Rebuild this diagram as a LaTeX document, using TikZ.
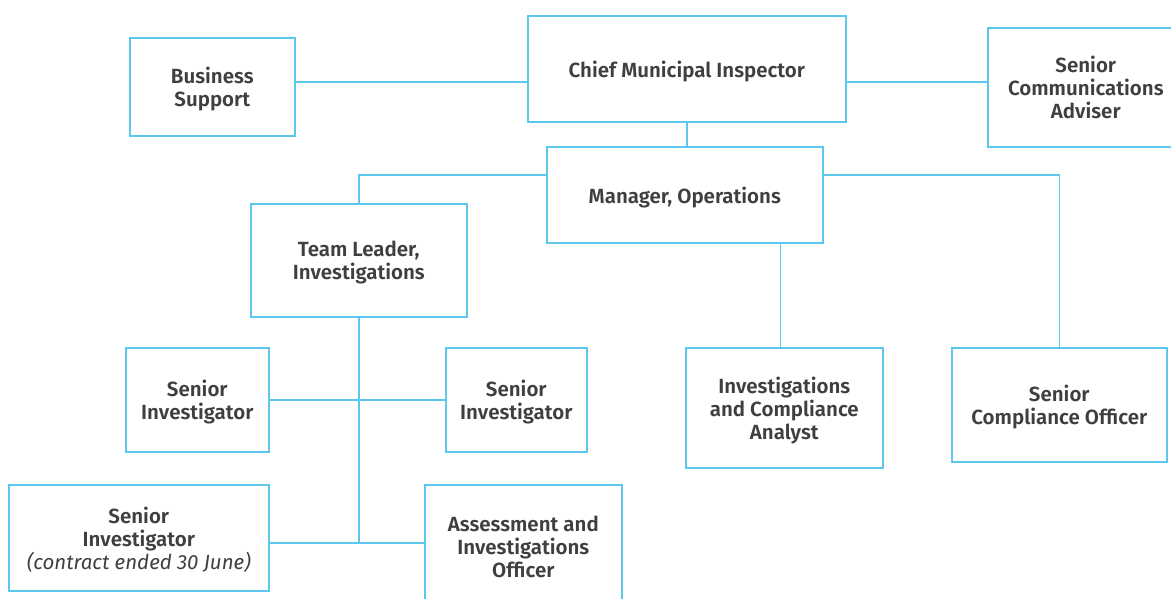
\documentclass[tikz,border=0pt]{standalone}
\usepackage{fontspec}
\setmainfont{Fira Sans}[BoldFont={Fira Sans SemiBold}]
\definecolor{linkblue}{HTML}{5CC8F0}
\definecolor{labelgrey}{HTML}{3F3F3F}
\tikzset{
  unit/.style={draw=linkblue, line width=1.6pt, fill=white, text=labelgrey,
    align=center, inner sep=0pt, anchor=north west, text depth=0pt,
    font=\fontsize{20.5}{23}\selectfont\bfseries},
  link/.style={draw=linkblue, line width=1.6pt}
}
\begin{document}
\begin{tikzpicture}[x=1pt, y=-1pt]
  \useasboundingbox (0,0) rectangle (1171,598);
  % top row
  \node[unit, minimum width=165pt, minimum height=98pt]  (bs)  at (129,37)  {Business\\Support};
  \node[unit, minimum width=318pt, minimum height=106pt] (cmi) at (527,15)  {Chief Municipal Inspector};
  \node[unit, minimum width=196pt, minimum height=119pt] (sca) at (987,27)  {Senior\\Communications\\Adviser};
  % second level
  \node[unit, minimum width=276pt, minimum height=96pt]  (mo)  at (546,146) {Manager, Operations};
  \node[unit, minimum width=216pt, minimum height=113pt] (tl)  at (250,203) {Team Leader,\\Investigations};
  % investigations team
  \node[unit, minimum width=143pt, minimum height=104pt] (si1) at (125,347) {Senior\\Investigator};
  \node[unit, minimum width=141pt, minimum height=104pt] (si2) at (445,347) {Senior\\Investigator};
  \node[unit, minimum width=260pt, minimum height=106pt] (sc)  at (8,484)   {Senior\\Investigator\\{\mdseries\itshape (contract ended 30 June)}};
  \node[unit, minimum width=197pt, minimum height=124pt] (aio) at (424,484) {Assessment and\\Investigations\\Officer};
  % operations staff
  \node[unit, minimum width=197pt, minimum height=120pt] (ica) at (685,347) {Investigations\\and Compliance\\Analyst};
  \node[unit, minimum width=215pt, minimum height=114pt] (sco) at (951,347) {Senior\\Compliance Officer};

  % rails for the horizontal connectors
  \coordinate (toprail) at (0,82);
  \coordinate (oprail)  at (0,175);
  \coordinate (lowrail) at (0,543);

  \draw[link] (bs.east |- toprail) -- (cmi.west |- toprail);
  \draw[link] (cmi.east |- toprail) -- (sca.west |- toprail);
  \draw[link] (cmi.south) -- (cmi.south |- mo.north);
  \draw[link] (mo.west |- oprail) -| (tl.north);
  \draw[link] (mo.east |- oprail) -| (sco.north);
  \draw[link] ([xshift=-4pt]ica.north) -- ([xshift=-4pt]ica.north |- mo.south);
  \draw[link] (tl.south) -- (tl.south |- lowrail);
  \draw[link] (si1.east) -- (si2.west);
  \draw[link] (sc.east |- lowrail) -- (aio.west |- lowrail);
\end{tikzpicture}
\end{document}
